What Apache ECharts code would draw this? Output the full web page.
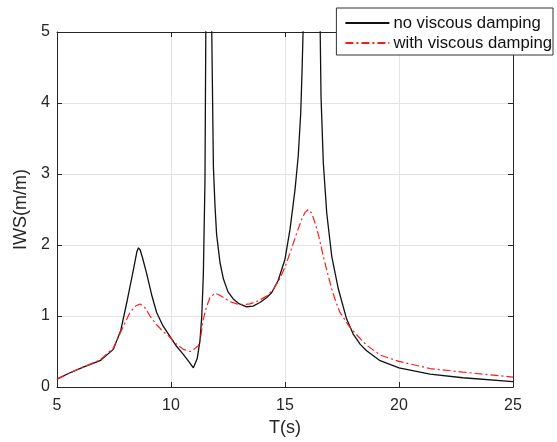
<!DOCTYPE html>
<html>
<head>
<meta charset="utf-8">
<script src="https://cdn.jsdelivr.net/npm/echarts@6/dist/echarts.min.js"></script>
<style>
  html, body { margin: 0; padding: 0; background: #fff; }
  #main { width: 557px; height: 442px; }
</style>
</head>
<body>
<div id="main"></div>
<script>
// periods and IWS values (peaks above 5 are clipped by the axis)
var tNoDamp = [5, 5.5, 6.15, 6.89, 7.47, 7.8, 8.06, 8.35, 8.5, 8.57, 8.65, 8.75, 8.93, 9.15, 9.37, 9.65, 9.96, 10.25, 10.54, 10.8, 10.98, 11.05, 11.15, 11.27, 11.35, 11.42, 11.49, 11.53, 11.65, 11.78, 11.86, 11.93, 12.0, 12.15, 12.3, 12.5, 12.73, 13.0, 13.32, 13.6, 13.9, 14.2, 14.42, 14.7, 15.0, 15.22, 15.44, 15.58, 15.69, 15.75, 15.8, 16.2, 16.54, 16.58, 16.68, 16.83, 17.05, 17.34, 17.7, 18.0, 18.3, 18.58, 19.17, 20, 21.36, 22.8, 25];
var vNoDamp = [0.11, 0.19, 0.28, 0.37, 0.53, 0.8, 1.19, 1.65, 1.9, 1.96, 1.93, 1.82, 1.6, 1.3, 1.05, 0.86, 0.71, 0.57, 0.46, 0.35, 0.27, 0.29, 0.4, 0.65, 1.0, 1.6, 2.9, 5.2, 9, 5.2, 3.1, 2.55, 2.15, 1.75, 1.52, 1.34, 1.24, 1.17, 1.13, 1.14, 1.19, 1.26, 1.33, 1.5, 1.8, 2.22, 2.78, 3.25, 3.86, 4.47, 5.1, 15, 5.1, 4.09, 3.16, 2.45, 1.84, 1.38, 0.96, 0.74, 0.6, 0.51, 0.37, 0.27, 0.18, 0.13, 0.075];

var tDamp = [5, 5.5, 6.15, 6.89, 7.47, 7.9, 8.2, 8.45, 8.64, 8.85, 9.08, 9.36, 9.66, 9.96, 10.25, 10.54, 10.83, 11.0, 11.2, 11.3, 11.42, 11.55, 11.71, 11.93, 12.1, 12.3, 12.6, 12.88, 13.2, 13.46, 13.8, 14.2, 14.5, 14.78, 15.0, 15.2, 15.37, 15.55, 15.73, 15.88, 16.02, 16.17, 16.32, 16.5, 16.68, 16.87, 17.05, 17.23, 17.41, 17.85, 18.3, 18.58, 19.17, 20, 21.36, 22.8, 25];
var vDamp = [0.11, 0.19, 0.28, 0.38, 0.55, 0.85, 1.05, 1.14, 1.17, 1.12, 1.0, 0.88, 0.78, 0.7, 0.6, 0.53, 0.5, 0.53, 0.58, 0.7, 0.96, 1.12, 1.26, 1.32, 1.3, 1.26, 1.2, 1.17, 1.16, 1.17, 1.21, 1.28, 1.38, 1.53, 1.69, 1.87, 2.03, 2.2, 2.36, 2.46, 2.5, 2.45, 2.31, 2.1, 1.84, 1.6, 1.38, 1.2, 1.05, 0.84, 0.68, 0.59, 0.45, 0.36, 0.26, 0.21, 0.14];

var legendNames = ['no viscous damping', 'with viscous damping'];

function pairs(t, v) {
    return t.map(function (x, i) { return [x, v[i]]; });
}

var chart = echarts.init(document.getElementById('main'), null, { renderer: 'canvas' });

var font = 'Liberation Sans, Arial, sans-serif';
var axisCol = '#262626';

function xAx(pos, labels) {
    return {
        type: 'value', position: pos, min: 5, max: 25, interval: 5,
        name: labels ? 'T(s)' : '', nameLocation: 'middle', nameGap: 32,
        nameTextStyle: { fontFamily: font, fontSize: 18, color: axisCol },
        axisLine: { show: true, onZero: false, lineStyle: { color: axisCol, width: 1 } },
        axisTick: { show: true, inside: true, length: 5, lineStyle: { color: axisCol } },
        axisLabel: { show: labels, fontFamily: font, fontSize: 16, color: axisCol, margin: 11 },
        splitLine: { show: labels, lineStyle: { color: '#e3e3e3', width: 1 } }
    };
}
function yAx(pos, labels) {
    return {
        type: 'value', position: pos, min: 0, max: 5, interval: 1,
        name: labels ? 'IWS(m/m)' : '', nameLocation: 'middle', nameGap: 17,
        nameTextStyle: { fontFamily: font, fontSize: 18, color: axisCol },
        axisLine: { show: true, onZero: false, lineStyle: { color: axisCol, width: 1 } },
        axisTick: { show: true, inside: true, length: 5, lineStyle: { color: axisCol } },
        axisLabel: { show: labels, fontFamily: font, fontSize: 16, color: axisCol, margin: 7 },
        splitLine: { show: labels, lineStyle: { color: '#e3e3e3', width: 1 } }
    };
}

var option = {
    animation: false,
    backgroundColor: '#fff',
    grid: { left: 57, right: 44, top: 32, bottom: 54 },
    legend: {
        data: legendNames,
        orient: 'vertical',
        right: 4,
        top: 8,
        backgroundColor: '#fff',
        borderColor: '#333',
        borderWidth: 1,
        padding: [6, 1, 3, 8],
        itemGap: 2,
        itemWidth: 44,
        itemHeight: 14,
        itemStyle: { opacity: 0 },
        textStyle: { fontFamily: font, fontSize: 16.7, lineHeight: 18, color: '#111', padding: [0, 0, 0, -1] }
    },
    xAxis: [xAx('bottom', true), xAx('top', false)],
    yAxis: [yAx('left', true), yAx('right', false)],
    series: [{
        name: legendNames[0],
        type: 'line',
        symbol: 'none',
        clip: true,
        lineStyle: { color: '#111', width: 1.3 },
        itemStyle: { color: '#111' },
        data: pairs(tNoDamp, vNoDamp)
    }, {
        name: legendNames[1],
        type: 'line',
        symbol: 'none',
        clip: true,
        lineStyle: { color: '#ff1a1a', width: 1.2, type: [8, 3, 2, 3] },
        itemStyle: { color: '#ff1a1a' },
        data: pairs(tDamp, vDamp)
    }]
};

chart.setOption(option);
</script>
</body>
</html>
